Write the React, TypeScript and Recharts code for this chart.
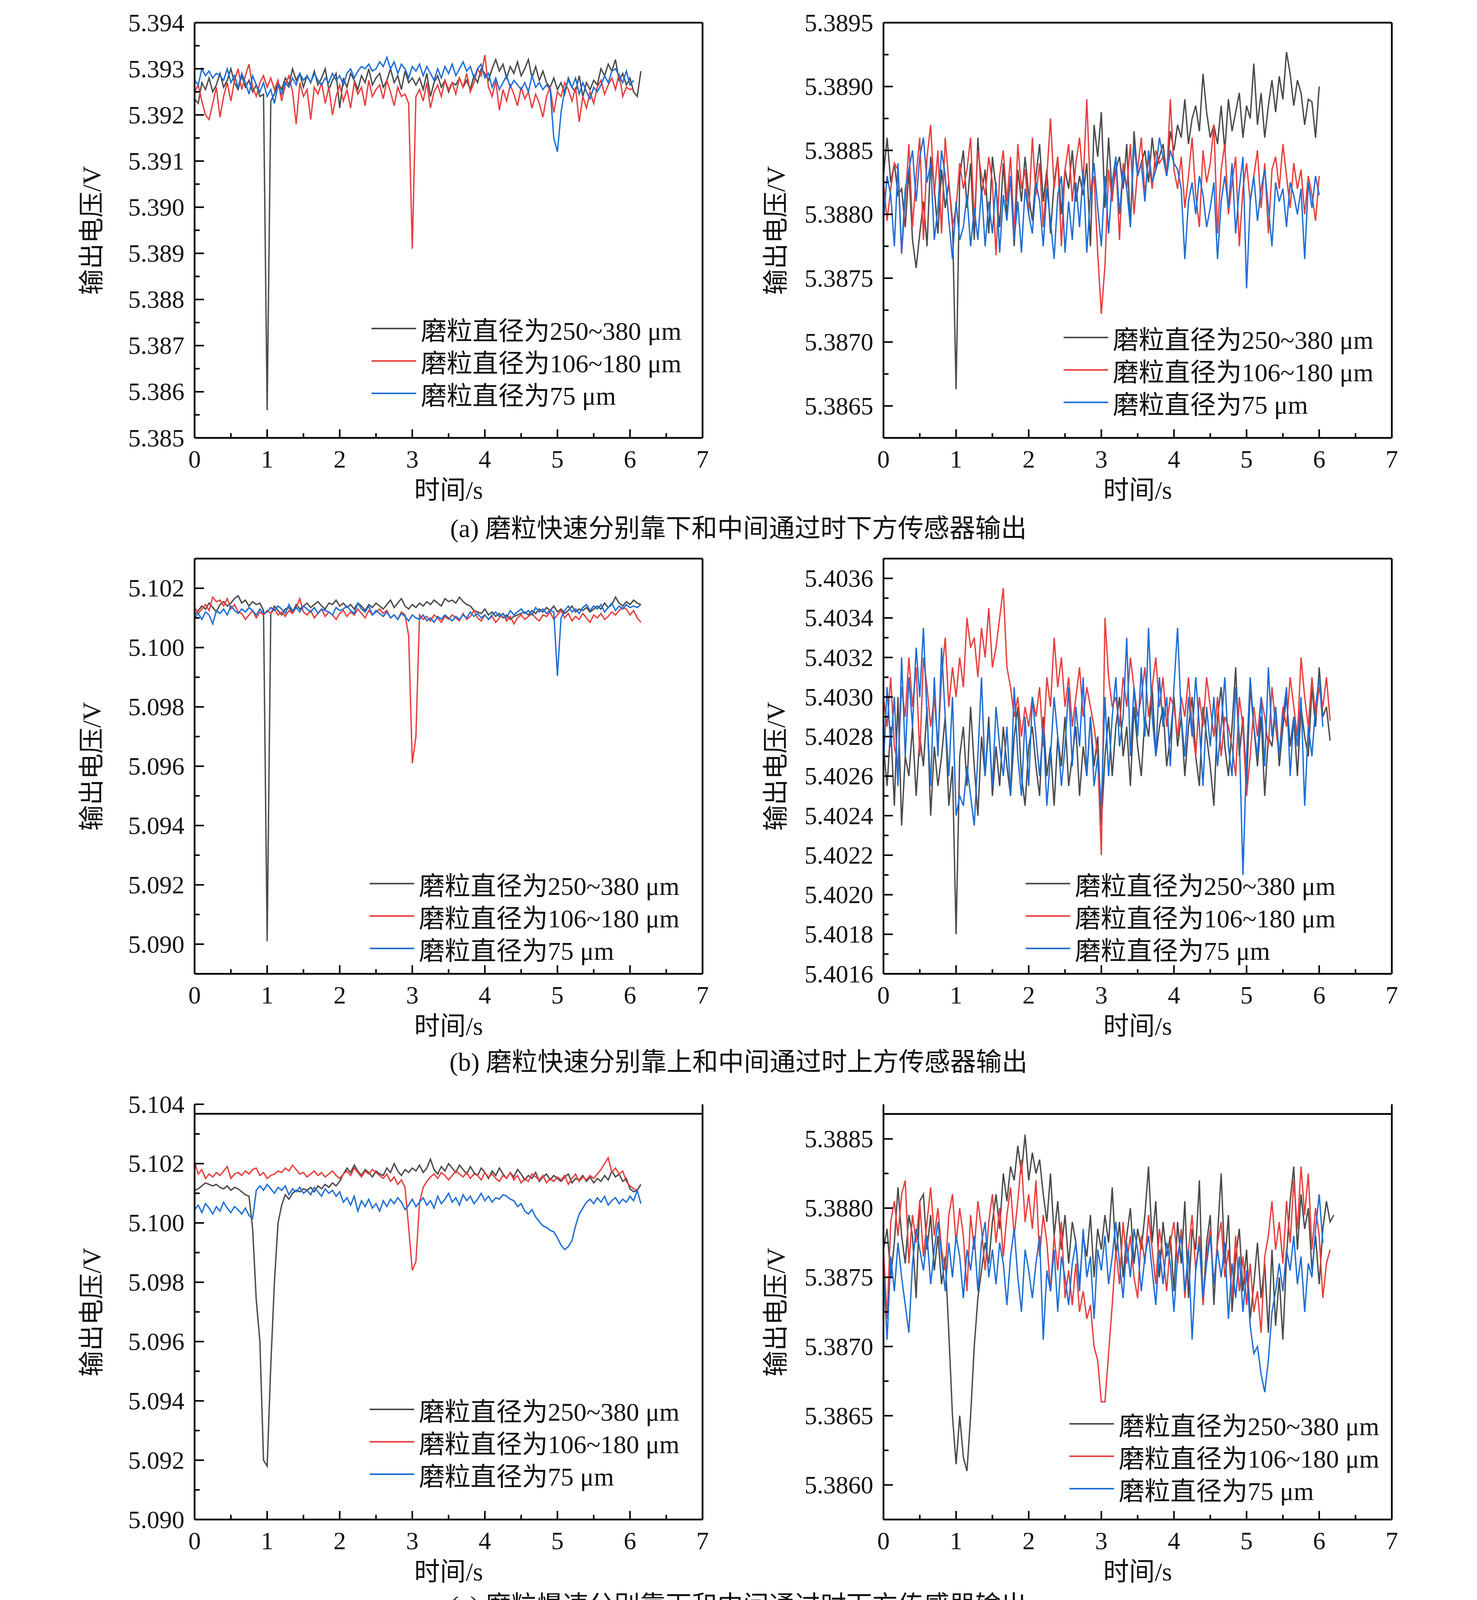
import React from 'react'
import { LineChart, Line, XAxis, YAxis, ReferenceLine } from 'recharts'

// sampling interval of every trace, seconds
const DT = 0.05
// the traces below are written in units of 10 µV above the panel's base voltage
const UNIT = 1e-5

const GRAY = '#4b4b4b'
const RED = '#e8403f'
const BLUE = '#1f6fd6'
const NAMES = ['磨粒直径为250~380 μm', '磨粒直径为106~180 μm', '磨粒直径为75 μm']
const CAPTIONS = [
  '(a) 磨粒快速分别靠下和中间通过时下方传感器输出',
  '(b) 磨粒快速分别靠上和中间通过时上方传感器输出',
  '(c) 磨粒慢速分别靠下和中间通过时下方传感器输出',
  '(d) 磨粒慢速分别靠上和中间通过时上方传感器输出',
]
const X_MAJOR = [0, 1, 2, 3, 4, 5, 6, 7]
const X_MINOR = [0.5, 1.5, 2.5, 3.5, 4.5, 5.5, 6.5]

// ---- (a) left
const AL_BASE = 5.39
const AL_MAJOR = [5.385, 5.386, 5.387, 5.388, 5.389, 5.39, 5.391, 5.392, 5.393, 5.394]
const AL_MINOR = [5.3855, 5.3865, 5.3875, 5.3885, 5.3895, 5.3905, 5.3915, 5.3925, 5.3935]
const AL_GRAY = [
  235, 225, 270, 255, 280, 250, 265, 290, 260, 275, 300,
  270, 255, 285, 260, 275, 250, 265, 240, 245, -440,
  230, 245, 270, 255, 280, 265, 300, 275, 290, 260,
  285, 270, 295, 265, 280, 300, 255, 275, 290, 215,
  280, 260, 290, 275, 255, 285, 270, 300, 265, 280,
  290, 260, 275, 300, 270, 285, 255, 295, 270, 280,
  265, 280, 255, 290, 240, 270, 285, 260, 275, 250,
  270, 265, 280, 260, 275, 255, 285, 270, 300, 290,
  275, 300, 320, 295, 310, 280, 305, 290, 315, 285,
  300, 320, 280, 305, 275, 295, 270, 260, 280, 255,
  270, 245, 280, 260, 250, 285, 240, 270, 255, 275,
  265, 300, 285, 310, 295, 320, 275, 290, 265, 280,
  250, 240, 295,
]
const AL_RED = [
  250, 265, 230, 200, 190, 225, 260, 195, 240, 270, 230,
  275, 300, 255, 285, 310, 260, 240, 270, 285, 260,
  280, 255, 275, 230, 265, 285, 250, 180, 270, 240,
  255, 190, 260, 245, 270, 225, 260, 200, 240, 265,
  230, 255, 215, 270, 245, 260, 220, 275, 240, 255,
  265, 235, 275, 250, 220, 260, 240, 245, 225, -90,
  240, 255, 230, 270, 215, 250, 265, 240, 275, 255,
  270, 245, 280, 260, 290, 250, 270, 300, 285, 330,
  260, 240, 275, 210, 255, 230, 265, 245, 220, 260,
  235, 250, 215, 245, 225, 195, 240, 260, 205, 250,
  240, 270, 255, 230, 260, 185, 240, 215, 250, 225,
  260, 275, 245, 265, 280, 255, 290, 240, 260, 255,
  258,
]
const AL_BLUE = [
  275, 265, 300, 285, 295, 280, 290, 285, 275, 300, 270,
  285, 260, 290, 270, 245, 285, 265, 250, 270, 240,
  255, 225, 265, 245, 270, 260, 280, 265, 290, 275,
  285, 270, 290, 275, 265, 280, 270, 290, 275, 285,
  265, 290, 300, 280, 295, 305, 300, 310, 295, 300,
  315, 305, 325, 300, 315, 290, 310, 300, 280, 305,
  295, 310, 285, 305, 290, 275, 300, 280, 305, 290,
  310, 285, 300, 315, 295, 305, 280, 300, 310, 280,
  290, 260, 280, 255, 270, 285, 260, 275, 265, 255,
  270, 250, 285, 260, 270, 255, 265, 255, 150, 120,
  205, 255, 275, 260, 280, 245, 270, 250, 235, 260,
  250, 265, 285, 270, 295, 300, 285, 270, 295, 265,
  275,
]

// ---- (a) right
const AR_BASE = 5.388
const AR_MAJOR = [5.3865, 5.387, 5.3875, 5.388, 5.3885, 5.389, 5.3895]
const AR_MINOR = [5.38675, 5.38725, 5.38775, 5.38825, 5.38875, 5.38925]
const AR_GRAY = [
  30, 60, 25, 40, 15, 20, -10, 35, -20, -42, -15,
  10, -25, 45, 20, -15, 35, 5, 25, -5, -137,
  30, 50, 5, 40, -20, 60, 15, 35, -15, 45,
  20, -10, 40, 0, 30, -25, 35, 10, 45, 15,
  -5, 30, 55, 10, 35, -15, 25, 45, 0, 35,
  20, 50, 10, 30, 15, 40, -25, 70, 45, 80,
  5, 60, 15, 35, 45, 20, 55, -10, 65, 30,
  40, 50, 25, 60, 35, 45, 55, 30, 65, 50,
  70, 60, 90, 55, 75, 85, 65, 110, 80, 60,
  70, 55, 85, 50, 90, 65, 80, 95, 60, 85,
  75, 118, 70, 95, 60, 85, 105, 80, 108, 90,
  127, 110, 85, 105, 95, 70, 90, 88, 60, 100,
]
const AR_RED = [
  25, -5, 20, 40, 35, -31, 10, 55, -10, 30, 60,
  -20, 45, 70, 15, 50, -15, 60, 25, -10, 5,
  40, 20, 35, 60, -5, 50, 30, 15, 45, 25,
  -32, 30, 50, 10, 45, -15, 55, 20, 35, 0,
  60, 15, 40, -10, 30, 75, 20, 45, -25, 35,
  55, 10, 40, 60, 25, 90, 15, 30, -30, -78,
  -40, 35, 10, 45, -20, 40, 20, 55, 0, 35,
  60, 15, 45, 20, 50, 40, 45, 30, 90, 35,
  20, 45, 5, 30, 60, 15, -10, 50, 25, 40,
  70, -15, 35, 55, 0, 25, 45, -25, 20, 40,
  10, 30, 50, 5, 40, -15, 35, 45, 20, 55,
  30, 5, 40, 20, 35, 0, 30, 15, -5, 30,
]
const AR_BLUE = [
  -5, 30, 15, -25, 40, -30, 20, 35, 50, 10, 45,
  60, 25, 40, -20, 5, 50, 30, -5, -35, 10,
  -20, -10, 15, -25, 5, -20, 20, -25, 10, -15,
  25, -30, 15, -5, 30, -20, 10, -30, 20, 0,
  -15, 25, 10, -25, 20, -5, -35, 15, 30, -30,
  10, -20, 25, -10, 35, -30, 15, 40, 5, -25,
  30, -15, 25, 45, 0, 35, 20, -10, 55, 30,
  40, 10, 50, 25, 35, 60, 45, 30, 50, 40,
  35, 20, -35, 10, 25, 0, 30, 15, -10, 5,
  25, -35, 10, 30, 5, 40, -15, 20, 45, -58,
  10, 30, -5, 20, 35, 5, -25, 25, 10, 20,
  -10, 25, 15, 0, 20, -35, 25, 5, 30, 15,
]

// ---- (b) left
const BL_BASE = 5.1
const BL_MAJOR = [5.09, 5.092, 5.094, 5.096, 5.098, 5.1, 5.102]
const BL_MINOR = [5.091, 5.093, 5.095, 5.097, 5.099, 5.101]
const BL_GRAY = [
  110, 125, 140, 130, 150, 135, 120, 145, 155, 140, 150,
  165, 175, 150, 160, 140, 155, 145, 150, 125, -990,
  115, 140, 125, 110, 130, 135, 120, 145, 130, 140,
  150, 135, 145, 155, 140, 130, 150, 145, 160, 140,
  150, 135, 145, 130, 150, 140, 125, 145, 135, 150,
  140, 130, 145, 160, 135, 150, 165, 140, 130, 145,
  135, 150, 140, 155, 145, 160, 150, 140, 165, 155,
  160, 150, 170, 155, 145, 140, 125, 120, 115, 130,
  110, 120, 105, 115, 100, 110, 95, 105, 110, 115,
  120, 110, 125, 115, 130, 120, 135, 125, 140, 120,
  130, 115, 125, 140, 120, 130, 125, 135, 120, 130,
  140, 130, 150, 135, 145, 170, 150, 140, 155, 145,
  160, 150, 145,
]
const BL_RED = [
  135, 115, 130, 145, 125, 170, 155, 160, 140, 165, 130,
  145, 120, 115, 95, 110, 125, 100, 120, 110, 125,
  115, 130, 110, 120, 105, 125, 115, 135, 165, 120,
  110, 125, 100, 115, 130, 105, 120, 110, 95, 115,
  125, 105, 120, 110, 130, 115, 100, 125, 110, 120,
  130, 115, 125, 100, 110, 95, 120, 110, 40, -390,
  -300, 110, 95, 105, 90, 110, 100, 85, 105, 95,
  110, 100, 90, 115, 95, 105, 125, 100, 90, 110,
  95, 105, 85, 100, 115, 90, 105, 80, 100, 110,
  95, 105, 115, 100, 90, 110, 105, 120, 95, 110,
  125, 100, 115, 90, 105, 95, 115, 100, 85, 110,
  100, 115, 95, 105, 120, 110, 125, 135, 130, 110,
  125, 100, 85,
]
const BL_BLUE = [
  100, 115, 95, 120, 110, 80, 125, 115, 130, 110, 140,
  125, 115, 130, 120, 135, 125, 110, 130, 115, 120,
  135, 125, 140, 130, 115, 145, 125, 135, 120, 140,
  130, 120, 135, 115, 130, 125, 120, 110, 135, 125,
  130, 140, 125, 115, 150, 130, 120, 140, 110, 125,
  115, 105, 120, 100, 110, 95, 115, 105, 90, 110,
  100, 95, 110, 90, 100, 85, 105, 95, 110, 100,
  90, 105, 95, 110, 100, 120, 105, 115, 100, 110,
  95, 110, 120, 105, 115, 100, 125, 110, 120, 130,
  115, 125, 110, 135, 120, 130, 115, 125, 120, -95,
  100, 125, 140, 120, 130, 115, 135, 145, 125, 140,
  130, 145, 120, 135, 150, 125, 140, 130, 145, 135,
  140, 135, 145,
]

// ---- (b) right
const BR_BASE = 5.4
const BR_MAJOR = [5.4016, 5.4018, 5.402, 5.4022, 5.4024, 5.4026, 5.4028, 5.403, 5.4032, 5.4034, 5.4036]
const BR_MINOR = [5.4017, 5.4019, 5.4021, 5.4023, 5.4025, 5.4027, 5.4029, 5.4031, 5.4033, 5.4035]
const BR_GRAY = [
  275, 255, 285, 245, 300, 235, 270, 260, 285, 250, 280,
  265, 295, 240, 275, 255, 270, 290, 245, 265, 180,
  270, 285, 255, 295, 265, 240, 280, 260, 290, 250,
  275, 255, 285, 265, 250, 280, 295, 260, 245, 275,
  285, 265, 250, 290, 260, 275, 245, 280, 265, 290,
  255, 270, 285, 250, 275, 260, 290, 265, 280, 235,
  270, 290, 260, 285, 300, 270, 285, 255, 295, 275,
  260, 290, 280, 305, 270, 285, 295, 265, 280, 300,
  275, 290, 260, 285, 300, 270, 255, 295, 280, 265,
  245, 290, 305, 275, 260, 285, 315, 270, 290, 255,
  305, 285, 265, 290, 250, 280, 275, 295, 265, 285,
  300, 275, 290, 260, 295, 280, 270, 305, 285, 315,
  290, 295, 278,
]
const BR_RED = [
  300, 285, 310, 275, 265, 305, 290, 320, 295, 315, 270,
  320, 305, 285, 300, 275, 310, 330, 295, 315, 300,
  320, 305, 340, 325, 330, 310, 335, 320, 345, 315,
  325, 340, 355, 315, 305, 290, 300, 280, 295, 285,
  300, 290, 305, 275, 310, 295, 330, 305, 320, 295,
  310, 285, 300, 315, 290, 305, 295, 285, 270, 220,
  340, 310, 295, 300, 285, 310, 295, 320, 305, 290,
  300, 315, 290, 305, 320, 295, 310, 285, 300, 295,
  280, 300, 290, 310, 285, 270, 300, 285, 310, 295,
  280, 300, 270, 290, 285, 275, 260, 300, 285, 250,
  270, 295, 280, 300, 290, 275, 305, 285, 270, 295,
  285, 310, 295, 280, 320, 300, 285, 310, 290, 305,
  295, 310, 288,
]
const BR_BLUE = [
  265, 305, 275, 300, 255, 320, 270, 310, 285, 325, 300,
  335, 290, 255, 310, 270, 325, 290, 260, 300, 240,
  250, 245, 265, 250, 235, 270, 310, 260, 285, 255,
  295, 275, 260, 285, 250, 305, 270, 250, 290, 255,
  300, 280, 260, 285, 245, 270, 300, 280, 255, 275,
  305, 265, 295, 275, 310, 260, 290, 255, 270, 245,
  300, 260, 290, 310, 275, 290, 330, 270, 305, 280,
  315, 280, 335, 290, 270, 310, 285, 300, 265, 305,
  335, 290, 270, 300, 280, 310, 285, 255, 295, 275,
  300, 265, 285, 310, 275, 260, 305, 280, 210, 270,
  310, 285, 270, 300, 265, 315, 280, 295, 270, 290,
  305, 260, 290, 275, 300, 245, 285, 270, 295, 310,
  285,
]

// ---- (c) left
const CL_BASE = 5.1
const CL_MAJOR = [5.09, 5.092, 5.094, 5.096, 5.098, 5.1, 5.102, 5.104]
const CL_MINOR = [5.091, 5.093, 5.095, 5.097, 5.099, 5.101, 5.103]
const CL_GRAY = [
  110, 115, 125, 135, 130, 125, 130, 120, 115, 125, 110,
  120, 115, 105, 95, 90, -20, -260, -400, -800, -820,
  -480, -200, 0, 60, 95, 80, 100, 110, 105, 115,
  110, 120, 105, 125, 115, 130, 120, 135, 125, 140,
  165, 185, 170, 195, 175, 160, 180, 170, 155, 175,
  165, 160, 185, 170, 200, 175, 160, 180, 170, 185,
  175, 195, 170, 185, 215, 180, 165, 190, 175, 200,
  185, 170, 195, 180, 165, 190, 170, 160, 185, 170,
  150, 175, 160, 185, 165, 150, 170, 155, 180, 165,
  145, 160, 150, 170, 140, 155, 165, 145, 160, 150,
  140, 155, 165, 135, 150, 145, 160, 140, 155, 135,
  150, 140, 160, 145, 175, 155, 165, 140, 150, 115,
  105, 110, 130,
]
const CL_RED = [
  205, 165, 180, 150, 165, 155, 170, 160, 175, 190, 150,
  165, 170, 160, 175, 165, 180, 185, 160, 170, 150,
  160, 165, 175, 170, 185, 175, 195, 180, 165, 170,
  155, 165, 175, 160, 170, 155, 165, 175, 160, 150,
  165, 175, 160, 185, 170, 155, 175, 165, 180, 170,
  160, 150, 165, 140, 155, 130, 145, 120, -15, -160,
  -130, 70, 120, 140, 155, 165, 150, 170, 160, 145,
  160, 175, 165, 155, 170, 150, 165, 160, 145, 170,
  155, 165, 150, 140, 160, 150, 170, 145, 160, 135,
  150, 140, 165, 155, 145, 160, 135, 150, 140, 155,
  145, 160, 130, 150, 165, 140, 155, 145, 160, 150,
  165, 180, 200, 220, 170, 185, 165, 175, 140, 125,
  115, 110,
]
const CL_BLUE = [
  45, 60, 35, 65, 50, 30, 55, 40, 70, 50, 35,
  55, 45, 30, 50, 25, 15, 110, 125, 110, 130,
  115, 100, 120, 110, 125, 95, 115, 105, 120, 100,
  110, 95, 120, 105, 90, 115, 100, 110, 90, 105,
  70, 85, 60, 90, 40, 75, 55, 80, 50, 65,
  40, 75, 55, 80, 65, 85, 70, 45, 60, 80,
  55, 70, 85, 60, 75, 50, 90, 65, 80, 100,
  70, 85, 60, 95, 75, 90, 65, 80, 100, 75,
  90, 70, 85, 80, 95, 90, 80, 75, 55, 65,
  40, 30, 45, 20, 5, -10, -15, -25, -30, -50,
  -75, -90, -80, -60, -10, 30, 50, 70, 80, 65,
  85, 70, 90, 60, 75, 85, 65, 80, 70, 90,
  75, 110, 65,
]

// ---- (c) right
const CR_BASE = 5.3875
const CR_MAJOR = [5.386, 5.3865, 5.387, 5.3875, 5.388, 5.3885]
const CR_MINOR = [5.38625, 5.38675, 5.38725, 5.38775, 5.38825]
const CR_GRAY = [
  20, 35, 0, 25, 65, 30, 10, 45, 30, -15, 55,
  60, 20, 45, 5, 30, -5, 15, -40, -100, -135,
  -100, -130, -140, -100, -50, -15, 5, 25, 10, 40,
  60, 35, 75, 55, 80, 70, 95, 75, 103, 70,
  90, 75, 85, 60, 40, 75, 30, 55, 20, 45,
  10, 40, 25, -5, 30, 15, 45, 0, 35, 20,
  45, 25, 65, 15, 40, 0, 30, 50, 10, 35,
  20, 45, 80, 25, 55, 0, 40, 15, 30, -10,
  40, 10, 55, -15, 35, 20, 70, -20, 25, 45,
  -20, 30, 75, 10, 45, -25, 15, 35, -10, 20,
  -30, -5, 25, -15, 10, -40, 20, -35, 0, -45,
  15, 55, 80, 20, 60, 35, 50, 5, 30, -5,
  35, 55, 40, 45,
]
const CR_RED = [
  20, -30, 40, 55, 30, 60, 70, 10, 45, 25, 55,
  15, 40, 65, 30, 50, 20, 5, 45, 60, 25,
  50, 30, -10, 45, 20, 55, 35, 5, 40, 60,
  25, 50, 15, 45, 65, 30, 55, 85, 40, 60,
  35, 70, 15, 45, 25, -10, 30, 5, 40, -15,
  5, -20, 10, -25, -10, -30, -20, -50, -60, -90,
  -90, -55, -20, 20, -5, 40, 10, 30, 0, -15,
  30, 10, 45, 20, -5, 35, 15, -10, 25, 40,
  10, 35, -15, 20, 45, 5, 30, -20, 15, 35,
  -5, 25, 40, 0, 20, -15, 30, -10, 15, -20,
  10, -25, -10, -40, 15, 30, 55, 20, 40, 10,
  55, 25, 70, 35, 80, 45, 75, 20, 50, 30,
  -15, 10, 20,
]
const CR_BLUE = [
  5, -45, 15, -10, 25, 0, -20, -40, 10, 35, 20,
  5, 30, -5, 20, 40, 15, -10, 25, 0, 30,
  15, -15, 20, 5, 30, -10, 25, 40, 0, 20,
  -5, 25, 10, -20, 15, 35, 0, -25, 20, 5,
  -15, 10, 30, -45, 5, -10, 20, -25, 15, 0,
  -20, 10, 25, -10, 35, 0, 15, -30, 20, 5,
  30, -5, 15, 40, 10, -15, 25, 0, 35, 20,
  -10, 15, 30, 5, -20, 20, -5, 25, 10, -25,
  15, 30, -10, 20, -45, 5, 25, -15, 10, 30,
  -5, 20, 0, 25, -30, 10, -15, 15, -25, 5,
  -35, -55, -50, -70, -83, -60, -25, -10, 10, -10,
  20, 5, 30, -5, 15, -25, 10, 0, 35, 60,
  25,
]

// ---- (d) left
const DL_BASE = 5.11
const DL_MAJOR = [5.09, 5.095, 5.1, 5.105, 5.11, 5.115]
const DL_MINOR = [5.0925, 5.0975, 5.1025, 5.1075, 5.1125]
const DL_GRAY = [
  250, 220, 230, 215, 235, 225, 240, 220, 235, 215, 240,
  225, 245, 230, 210, 80, -200, -700, -1200, -2000, -1620,
  -1160, -1040, -600, -60, 30, 200, 220, 235, 215, 230,
  240, 220, 235, 225, 210, 230, 240, 225, 250, 235,
  245, 230, 255, 240, 250, 265, 245, 255, 240, 260,
  245, 255, 265, 250, 240, 255, 260, 245, 255, 265,
  250, 270, 260, 275, 265, 280, 260, 270, 255, 265,
  275, 260, 270, 250, 265, 255, 270, 245, 260, 250,
  240, 230, 250, 225, 245, 235, 255, 240, 230, 250,
  245, 230, 240, 220, 235, 215, 185, 210, 200, 225,
  240, 230, 250, 235, 260, 245, 250, 240, 230, 225,
  215, 235, 225, 240, 230, 250, 245, 260, 250, 255,
  260, 250, 255,
]
const DL_RED = [
  260, 240, 255, 270, 245, 260, 250, 265, 240, 255, 285,
  260, 270, 250, 265, 240, 255, 270, 260, 280, 265,
  275, 255, 280, 265, 250, 270, 285, 260, 275, 255,
  280, 265, 270, 255, 275, 260, 285, 270, 255, 265,
  280, 270, 260, 275, 265, 285, 270, 255, 275, 265,
  275, 270, 300, -150, -380, -620, -730, -980, -500, -200,
  -110, 0, 120, 180, 240, 265, 255, 275, 260, 280,
  265, 275, 255, 280, 270, 285, 260, 275, 265, 255,
  270, 280, 260, 285, 265, 275, 250, 270, 260, 275,
  255, 270, 285, 300, 280, 320, 295, 285, 270, 260,
  280, 275, 260, 285, 265, 250, 270, 260, 275, 255,
  270, 285, 260, 275, 290, 265, 280, 270, 295, 265,
  285, 275, 270,
]
const DL_BLUE = [
  285, 270, 280, 295, 260, 275, 285, 300, 270, 285, 265,
  280, 290, 270, 285, 275, 280, 295, 280, 275, 290,
  295, 285, 300, 280, 295, 310, 290, 300, 285, 305,
  295, 310, 290, 305, 300, 295, 310, 300, 315, 305,
  300, 310, 320, 305, 315, 300, 320, 310, 305, 315,
  325, 305, 315, 320, 310, 330, 315, 305, 320, 310,
  315, 305, 320, 310, 300, 315, 305, 320, 310, 300,
  295, 310, 325, 305, 315, 335, 310, 320, 305, 315,
  330, 310, 320, 305, 315, 300, 290, 305, 285, 295,
  280, 265, 250, 200, -50, -140, -180, -450, -500, -350,
  50, 150, 260, 270, 285, 300, 290, 305, 320, 310,
  325, 315, 340, 320, 330, 315, 325, 310, 320, 315,
  320, 310,
]

// ---- (d) right
const DR_BASE = 5.4
const DR_MAJOR = [5.4015, 5.402, 5.4025, 5.403, 5.4035, 5.404]
const DR_MINOR = [5.40175, 5.40225, 5.40275, 5.40325, 5.40375]
const DR_GRAY = [
  375, 330, 355, 340, 358, 345, 360, 335, 355, 340, 365,
  350, 335, 345, 320, 290, 310, 275, 252, 225, 172,
  192, 205, 232, 285, 290, 280, 315, 330, 305, 340,
  360, 330, 355, 340, 365, 335, 360, 345, 370, 350,
  365, 340, 360, 370, 345, 365, 355, 335, 370, 360,
  380, 345, 365, 340, 360, 375, 345, 355, 335, 350,
  345, 365, 340, 355, 370, 335, 360, 375, 340, 355,
  365, 330, 355, 370, 345, 360, 335, 355, 345, 360,
  340, 355, 325, 345, 360, 335, 350, 330, 305, 340,
  320, 345, 305, 335, 315, 340, 325, 350, 330, 355,
  340, 315, 350, 325, 345, 310, 335, 320, 345, 330,
  315, 340, 325, 350, 335, 310, 355, 340, 325, 355,
]
const DR_RED = [
  297, 290, 285, 300, 282, 310, 295, 318, 275, 300, 270,
  285, 260, 275, 250, 280, 265, 290, 270, 240, 228,
  270, 262, 232, 270, 255, 285, 275, 300, 290, 320,
  285, 300, 275, 295, 265, 310, 280, 255, 300, 333,
  270, 300, 275, 250, 290, 305, 285, 315, 300, 325,
  310, 330, 315, 305, 345, 320, 300, 310, 295, 265,
  250, 240, 222, 230, 250, 262, 275, 280, 330, 300,
  315, 305, 325, 310, 300, 320, 330, 310, 345, 315,
  330, 305, 340, 382, 325, 310, 335, 300, 320, 340,
  310, 325, 300, 330, 315, 295, 320, 305, 270, 300,
  320, 290, 310, 300, 325, 285, 305, 320, 280, 310,
  295, 315, 290, 310, 280, 305, 325, 300, 285, 310,
  300, 300,
]
const DR_BLUE = [
  345, 320, 335, 315, 340, 325, 350, 330, 345, 320, 355,
  340, 315, 330, 300, 325, 310, 290, 320, 305, 315,
  330, 345, 310, 335, 360, 320, 340, 325, 350, 330,
  345, 325, 340, 315, 335, 320, 345, 310, 330, 370,
  340, 325, 335, 310, 300, 315, 295, 320, 305, 325,
  340, 320, 330, 345, 315, 330, 325, 340, 310, 335,
  345, 320, 350, 330, 365, 340, 325, 355, 335, 350,
  330, 360, 340, 355, 335, 345, 325, 360, 340, 350,
  355, 335, 360, 345, 330, 350, 340, 365, 335, 355,
  340, 360, 345, 375, 350, 335, 360, 325, 290, 262,
  268, 300, 320, 335, 310, 330, 345, 320, 340, 325,
  375, 350, 385, 360, 345, 370, 355, 375, 340, 365,
  350,
]

const FONT = '"Liberation Serif", "Times New Roman", "Noto Sans CJK SC", serif'
const PLOT_H = 1063
const TOP_PAD = 60
const XAXIS_H = 200
const CHART_H = TOP_PAD + PLOT_H + XAXIS_H + 10
const STROKE = 4.5

const toPoints = (codes: number[], base: number) =>
  codes.map((c, i) => ({ t: Number((i * DT).toFixed(2)), v: base + c * UNIT }))

type PanelSpec = {
  col: 0 | 1
  plotTop: number
  base: number
  traces: number[][]
  domain: [number, number]
  majors: number[]
  minors: number[]
  digits: number
  frameTop: number
  legendDx: number
  legendAbove: number
}

const isIn = (list: number[], v: number) => list.some((m) => Math.abs(m - v) < 1e-9)

function makeYTick(majors: number[], digits: number) {
  return (props: any) => {
    const { x, y, payload } = props
    const major = isIn(majors, payload.value)
    return (
      <g>
        <line x1={x} x2={x + (major ? 24 : 13)} y1={y} y2={y} stroke="#000" strokeWidth={4} />
        {major && (
          <text x={x - 26} y={y} textAnchor="end" dominantBaseline="central" fontSize={64} fontFamily={FONT} fill="#111">
            {Number(payload.value).toFixed(digits)}
          </text>
        )}
      </g>
    )
  }
}

function XTick(props: any) {
  const { x, y, payload } = props
  const major = isIn(X_MAJOR, payload.value)
  return (
    <g>
      <line x1={x} x2={x} y1={y} y2={y - (major ? 22 : 12)} stroke="#000" strokeWidth={4} />
      {major && (
        <text x={x} y={y + 54} textAnchor="middle" dominantBaseline="central" fontSize={64} fontFamily={FONT} fill="#111">
          {payload.value}
        </text>
      )}
    </g>
  )
}

function Panel({ spec }: { spec: PanelSpec }) {
  const left = spec.col === 0 ? 0 : 1890
  const yW = spec.col === 0 ? 498 : 371
  const mR = spec.col === 0 ? 92 : 218
  const plotW = 1890 - yW - mR
  const colors = [GRAY, RED, BLUE]
  const plotBottom = TOP_PAD + PLOT_H
  const yTitleX = spec.col === 0 ? 235 : 96
  return (
    <div style={{ position: 'absolute', left, top: spec.plotTop - TOP_PAD, width: 1890, height: CHART_H }}>
      <LineChart width={1890} height={CHART_H} margin={{ top: TOP_PAD, right: mR, bottom: 10, left: 0 }}>
        <XAxis
          dataKey="t"
          type="number"
          domain={[0, 7]}
          ticks={[...X_MAJOR, ...X_MINOR]}
          interval={0}
          allowDataOverflow
          height={XAXIS_H}
          tickSize={0}
          tickMargin={0}
          tickLine={false}
          tick={XTick}
          axisLine={{ stroke: '#000', strokeWidth: STROKE }}
        />
        <YAxis
          type="number"
          domain={spec.domain}
          ticks={[...spec.majors, ...spec.minors]}
          interval={0}
          allowDataOverflow
          width={yW}
          tickSize={0}
          tickMargin={0}
          tickLine={false}
          tick={makeYTick(spec.majors, spec.digits)}
          axisLine={{ stroke: '#000', strokeWidth: STROKE }}
        />
        <ReferenceLine x={7} stroke="#000" strokeWidth={STROKE} />
        <ReferenceLine y={spec.frameTop} stroke="#000" strokeWidth={STROKE} />
        {spec.traces.map((codes, k) => (
          <Line
            key={k}
            data={toPoints(codes, spec.base)}
            dataKey="v"
            type="linear"
            stroke={colors[k]}
            strokeWidth={3.5}
            dot={false}
            activeDot={false}
            isAnimationActive={false}
          />
        ))}
      </LineChart>
      <div
        style={{
          position: 'absolute',
          left: yTitleX - 300,
          top: TOP_PAD + PLOT_H / 2 - 40,
          width: 600,
          height: 80,
          lineHeight: '80px',
          textAlign: 'center',
          transform: 'rotate(-90deg)',
          fontFamily: FONT,
          fontSize: 66,
          color: '#111',
          whiteSpace: 'nowrap',
        }}
      >
        输出电压/V
      </div>
      <div
        style={{
          position: 'absolute',
          left: yW + plotW / 2 - 300,
          top: plotBottom + 134 - 40,
          width: 600,
          height: 80,
          lineHeight: '80px',
          textAlign: 'center',
          fontFamily: FONT,
          fontSize: 66,
          color: '#111',
        }}
      >
        时间/s
      </div>
      <div style={{ position: 'absolute', left: yW + spec.legendDx, top: plotBottom - spec.legendAbove - 41.5 }}>
        {NAMES.map((name, k) => (
          <div key={k} style={{ display: 'flex', alignItems: 'center', height: 83 }}>
            <span style={{ display: 'inline-block', width: 114, height: 4, background: colors[k] }} />
            <span style={{ marginLeft: 12, fontFamily: FONT, fontSize: 66, color: '#111', whiteSpace: 'nowrap' }}>{name}</span>
          </div>
        ))}
      </div>
    </div>
  )
}

const PANELS: PanelSpec[] = [
  { col: 0, plotTop: 58, base: AL_BASE, traces: [AL_GRAY, AL_RED, AL_BLUE], domain: [5.385, 5.394], majors: AL_MAJOR, minors: AL_MINOR, digits: 3, frameTop: 5.394, legendDx: 453, legendAbove: 280 },
  { col: 1, plotTop: 58, base: AR_BASE, traces: [AR_GRAY, AR_RED, AR_BLUE], domain: [5.38625, 5.3895], majors: AR_MAJOR, minors: AR_MINOR, digits: 4, frameTop: 5.3895, legendDx: 461, legendAbove: 257 },
  { col: 0, plotTop: 1430, base: BL_BASE, traces: [BL_GRAY, BL_RED, BL_BLUE], domain: [5.089, 5.103], majors: BL_MAJOR, minors: BL_MINOR, digits: 3, frameTop: 5.103, legendDx: 448, legendAbove: 231 },
  { col: 1, plotTop: 1430, base: BR_BASE, traces: [BR_GRAY, BR_RED, BR_BLUE], domain: [5.4016, 5.4037], majors: BR_MAJOR, minors: BR_MINOR, digits: 4, frameTop: 5.4037, legendDx: 364, legendAbove: 231 },
  { col: 0, plotTop: 2827, base: CL_BASE, traces: [CL_GRAY, CL_RED, CL_BLUE], domain: [5.09, 5.104], majors: CL_MAJOR, minors: CL_MINOR, digits: 3, frameTop: 5.10368, legendDx: 448, legendAbove: 282 },
  { col: 1, plotTop: 2827, base: CR_BASE, traces: [CR_GRAY, CR_RED, CR_BLUE], domain: [5.38575, 5.38875], majors: CR_MAJOR, minors: CR_MINOR, digits: 4, frameTop: 5.38868, legendDx: 476, legendAbove: 245 },
  { col: 0, plotTop: 4214, base: DL_BASE, traces: [DL_GRAY, DL_RED, DL_BLUE], domain: [5.0875, 5.1175], majors: DL_MAJOR, minors: DL_MINOR, digits: 3, frameTop: 5.1175, legendDx: 448, legendAbove: 248 },
  { col: 1, plotTop: 4214, base: DR_BASE, traces: [DR_GRAY, DR_RED, DR_BLUE], domain: [5.4015, 5.404], majors: DR_MAJOR, minors: DR_MINOR, digits: 4, frameTop: 5.404, legendDx: 476, legendAbove: 248 },
]

const CAPTION_Y = [1353, 2719, 4110, 5502]

export default function App() {
  return (
    <div
      style={{
        position: 'relative',
        width: 3780,
        height: 5550,
        margin: '-8px 0 0 -8px',
        background: '#fff',
        overflow: 'hidden',
      }}
    >
      {PANELS.map((p, i) => (
        <Panel key={i} spec={p} />
      ))}
      {CAPTIONS.map((c, i) => (
        <div
          key={i}
          style={{
            position: 'absolute',
            left: 0,
            width: 3780,
            top: CAPTION_Y[i] - 45,
            height: 90,
            lineHeight: '90px',
            textAlign: 'center',
            fontFamily: FONT,
            fontSize: 66,
            color: '#111',
            whiteSpace: 'nowrap',
          }}
        >
          {c}
        </div>
      ))}
    </div>
  )
}
